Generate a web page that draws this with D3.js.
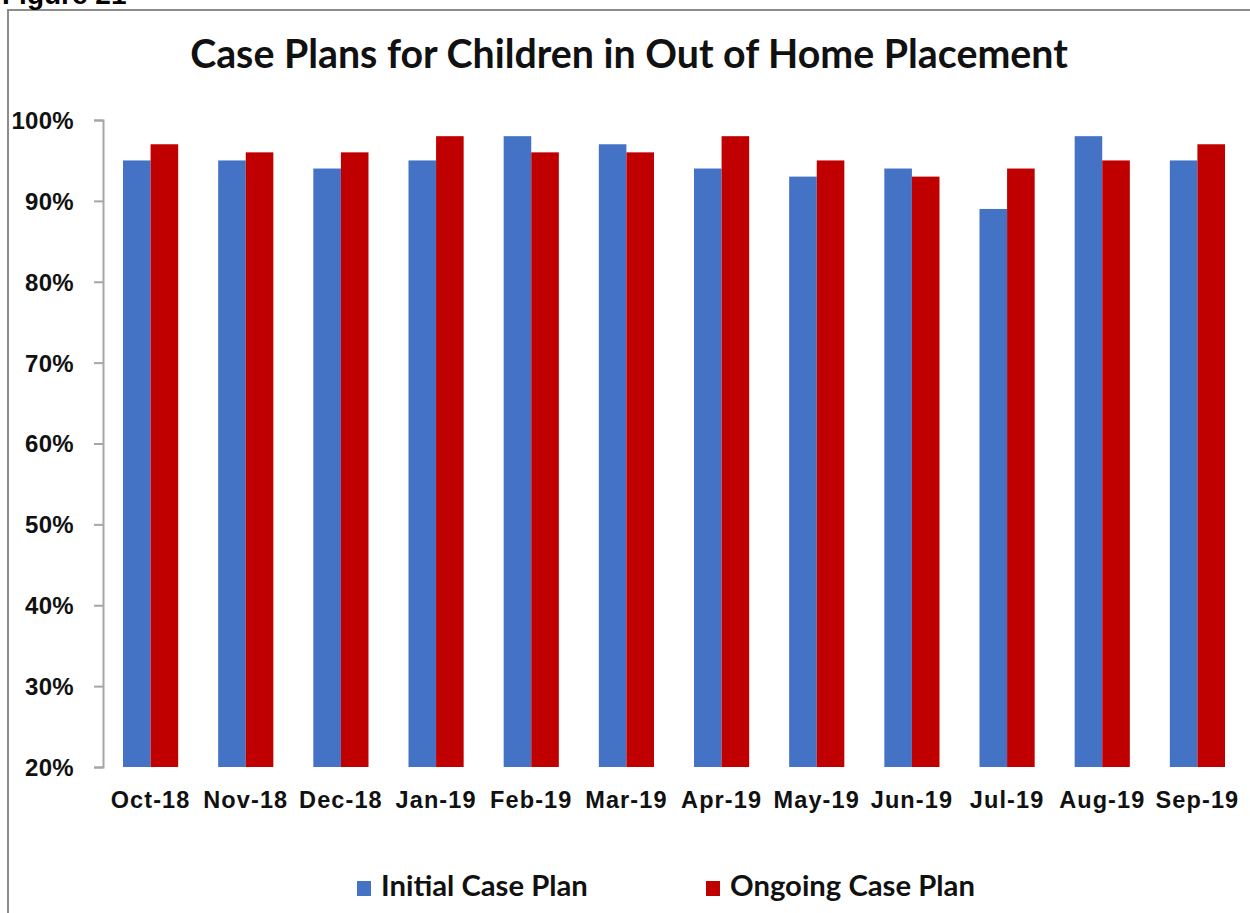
<!DOCTYPE html>
<html>
<head>
<meta charset="utf-8">
<script src="https://cdn.jsdelivr.net/npm/d3@7"></script>
<style>
  html, body { margin: 0; padding: 0; background: #fff; }
  svg { display: block; }
</style>
</head>
<body>
<svg id="chart" width="1250" height="913"></svg>
<script>
const categories = ["Oct-18","Nov-18","Dec-18","Jan-19","Feb-19","Mar-19","Apr-19","May-19","Jun-19","Jul-19","Aug-19","Sep-19"];
const initialCasePlan = [95, 95, 94, 95, 98, 97, 94, 93, 94, 89, 98, 95];
const ongoingCasePlan = [97, 96, 96, 98, 96, 96, 98, 95, 93, 94, 95, 97];
const seriesNames = ["Initial Case Plan", "Ongoing Case Plan"];
const seriesColors = ["#4472C4", "#C00000"];
const yTicks = [20, 30, 40, 50, 60, 70, 80, 90, 100];
const titleText = "Case Plans for Children in Out of Home Placement";

const svg = d3.select("#chart");

function fitWidth(sel, base, target) {
  const w = sel.node().getComputedTextLength();
  sel.attr("font-size", base * target / w);
}

// outer frame
svg.append("rect").attr("x", 8).attr("y", 10).attr("width", 1400).attr("height", 1000)
  .attr("fill", "none").attr("stroke", "#8c8c8c").attr("stroke-width", 2);

// cut-off figure label (cut at the top in the original too)
svg.append("text").attr("x", 2).attr("y", 4)
  .attr("font-family", "Liberation Sans, Arial, sans-serif").attr("font-weight", "bold")
  .attr("font-size", 28).text("Figure 21");

// title
const title = svg.append("text").attr("x", 629).attr("y", 68).attr("text-anchor", "middle")
  .attr("font-family", "Lato, 'Open Sans', sans-serif").attr("font-weight", "bold")
  .attr("font-size", 33).attr("fill", "#111").text(titleText);
fitWidth(title, 33, 878);

const x = d3.scaleBand().domain(categories).range([103, 1245]);
const inner = d3.scaleBand().domain(seriesNames).range([0, x.bandwidth()]).paddingOuter(0.725);
const y = d3.scaleLinear().domain([20, 100]).range([767, 120]);

// y axis
const yAxis = svg.append("g").attr("transform", "translate(103,0)")
  .call(d3.axisLeft(y).tickValues(yTicks).tickSize(9).tickPadding(20).tickFormat(d => d + "%"));
yAxis.select(".domain").attr("stroke", "#a6a6a6").attr("stroke-width", 2);
yAxis.selectAll(".tick line").attr("stroke", "#a6a6a6").attr("stroke-width", 2);
yAxis.selectAll(".tick text")
  .attr("font-family", "Liberation Sans, Arial, sans-serif").attr("font-weight", "bold")
  .attr("font-size", 24).attr("letter-spacing", 0.3).attr("fill", "#111").attr("dy", "0.35em");

// bars
const data = categories.map((c, i) => ({ c, vals: [initialCasePlan[i], ongoingCasePlan[i]] }));
const groups = svg.append("g").selectAll("g").data(data).join("g")
  .attr("transform", d => `translate(${x(d.c)},0)`);
groups.selectAll("rect").data(d => d.vals.map((v, k) => ({ v, s: seriesNames[k], k })))
  .join("rect")
  .attr("x", d => inner(d.s))
  .attr("width", inner.bandwidth())
  .attr("y", d => y(d.v))
  .attr("height", d => y(20) - y(d.v))
  .attr("fill", d => seriesColors[d.k]);

// x labels
const xAxis = svg.append("g").attr("transform", "translate(0,767)")
  .call(d3.axisBottom(x).tickSize(0).tickPadding(0));
xAxis.select(".domain").remove();
xAxis.selectAll(".tick text")
  .attr("y", 41).attr("dy", 0)
  .attr("font-family", "Liberation Sans, Arial, sans-serif").attr("font-weight", "bold")
  .attr("font-size", 23.5).attr("letter-spacing", 1.1).attr("fill", "#111");

// legend
const legendX = [357, 706];
const legendW = [207, 245];
const lg = svg.append("g").selectAll("g").data(seriesNames).join("g")
  .attr("transform", (d, i) => `translate(${legendX[i]},0)`);
lg.append("rect").attr("x", 0).attr("y", 881).attr("width", 14).attr("height", 15)
  .attr("fill", (d, i) => seriesColors[i]);
lg.append("text").attr("x", 24).attr("y", 896)
  .attr("font-family", "Lato, 'Open Sans', sans-serif").attr("font-weight", "bold")
  .attr("font-size", 26).attr("fill", "#111").text(d => d)
  .each(function(d, i) { fitWidth(d3.select(this), 26, legendW[i]); });
</script>
</body>
</html>
